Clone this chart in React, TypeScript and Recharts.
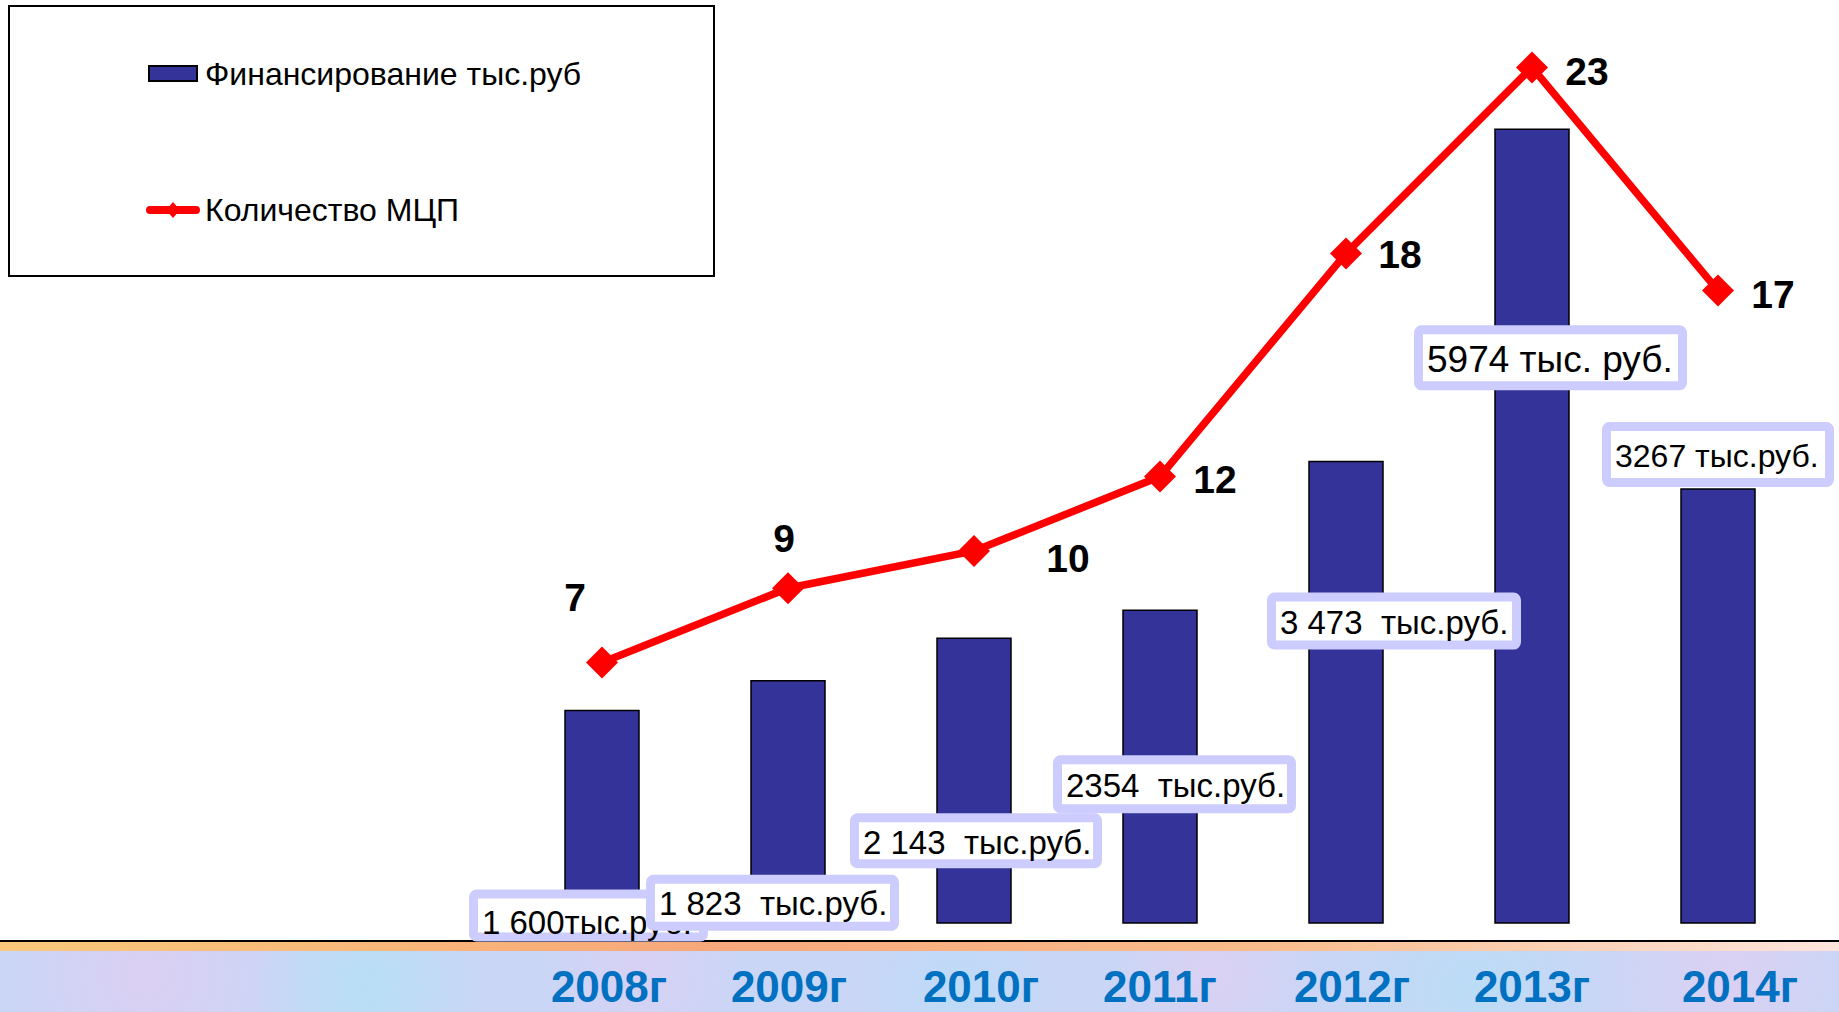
import { Bar, ComposedChart, LabelList, Legend, Line, XAxis, YAxis } from "recharts";

const years = ["2008г", "2009г", "2010г", "2011г", "2012г", "2013г", "2014г"];
const funding = [1600, 1823, 2143, 2354, 3473, 5974, 3267];
const fundingLabels = [
  "1 600тыс.руб.",
  "1 823  тыс.руб.",
  "2 143  тыс.руб.",
  "2354  тыс.руб.",
  "3 473  тыс.руб.",
  "5974 тыс. руб.",
  "3267 тыс.руб.",
];
const programs = [7, 9, 10, 12, 18, 23, 17];

const data = years.map((year, i) => ({
  year,
  funding: funding[i],
  programs: programs[i],
}));

const FONT = "'Liberation Sans', Arial, sans-serif";

// label boxes were placed by hand on the slide, offsets from the bar's top centre
const boxPlace = [
  { dx: -133, dy: 179, w: 239, h: 52, fs: 33, ty: 33 },
  { dx: -142, dy: 194, w: 253, h: 56, fs: 33, ty: 29 },
  { dx: -124, dy: 175, w: 252, h: 55, fs: 33, ty: 29 },
  { dx: -107, dy: 145, w: 243, h: 58, fs: 33, ty: 30 },
  { dx: -79, dy: 131, w: 254, h: 57, fs: 33, ty: 30 },
  { dx: -118, dy: 196, w: 273, h: 65, fs: 37, ty: 34 },
  { dx: -116, dy: -67, w: 232, h: 65, fs: 32, ty: 34 },
];

// count labels, offsets from the marker
const countPlace = [
  { dx: -27, dy: -65 },
  { dx: -4, dy: -50 },
  { dx: 94, dy: 7 },
  { dx: 55, dy: 3 },
  { dx: 54, dy: 1 },
  { dx: 55, dy: 4 },
  { dx: 55, dy: 4 },
];

const yearShift = [7, 1, 7, 0, 6, 0, 22];

const renderFundingBox = (props: any) => {
  const { x, y, width, index } = props;
  const p = boxPlace[index];
  const left = Number(x) + Number(width) / 2 + p.dx;
  const top = Number(y) + p.dy;
  return (
    <g key={`box-${index}`}>
      <rect
        x={left + 4.5}
        y={top + 4.5}
        width={p.w - 9}
        height={p.h - 9}
        rx={3}
        fill="#ffffff"
        stroke="#ccccff"
        strokeWidth={9}
      />
      <text
        x={left + 13}
        y={top + p.ty}
        dominantBaseline="central"
        fontFamily={FONT}
        fontSize={p.fs}
        fill="#000"
        style={{ whiteSpace: "pre" }}
      >
        {fundingLabels[index]}
      </text>
    </g>
  );
};

const renderCount = (props: any) => {
  const { x, y, value, index } = props;
  const p = countPlace[index];
  return (
    <text
      key={`cnt-${index}`}
      x={Number(x) + p.dx}
      y={Number(y) + p.dy}
      textAnchor="middle"
      dominantBaseline="central"
      fontFamily={FONT}
      fontWeight="bold"
      fontSize={39}
      fill="#000"
    >
      {value}
    </text>
  );
};

const renderDiamond = (props: any) => {
  const { cx, cy, index } = props;
  const r = 16;
  return (
    <polygon
      key={`dot-${index}`}
      points={`${cx},${cy - r} ${cx + r},${cy} ${cx},${cy + r} ${cx - r},${cy}`}
      fill="#ff0000"
    />
  );
};

const YearTick = (props: any) => {
  const { x, y, payload, index } = props;
  return (
    <text
      x={Number(x) + yearShift[index]}
      y={Number(y) + 79}
      textAnchor="middle"
      fontFamily={FONT}
      fontWeight="bold"
      fontSize={44}
      fill="#0070c0"
    >
      {payload.value}
    </text>
  );
};

const renderLegend = (props: any) => {
  const items = (props.payload || []) as any[];
  const barItem = items.find((e) => e.type !== "line");
  const lineItem = items.find((e) => e.type === "line");
  return (
    <div
      style={{
        width: 707,
        height: 272,
        border: "2px solid #000",
        boxSizing: "border-box",
        background: "#fff",
      }}
    >
      <svg width={703} height={268}>
        <rect x={139} y={59} width={48} height={15} fill="#333399" stroke="#000" strokeWidth={2} />
        <text x={195} y={67} dominantBaseline="central" fontFamily={FONT} fontSize={32} fill="#000">
          {barItem?.value}
        </text>
        <line x1={140} y1={203} x2={186} y2={203} stroke="#ff0000" strokeWidth={8} strokeLinecap="round" />
        <polygon points="163,195 170,203 163,211 156,203" fill="#ff0000" />
        <text x={195} y={203} dominantBaseline="central" fontFamily={FONT} fontSize={32} fill="#000">
          {lineItem?.value}
        </text>
      </svg>
    </div>
  );
};

export default function App() {
  return (
    <div
      style={{
        position: "absolute",
        left: 0,
        top: 0,
        width: 1839,
        height: 1012,
        overflow: "hidden",
        background: "#ffffff",
      }}
    >
      <div style={{ position: "absolute", left: 0, top: 940, width: 1839, height: 2, background: "#000" }} />
      <div
        style={{
          position: "absolute",
          left: 0,
          top: 942,
          width: 1839,
          height: 9,
          background: "linear-gradient(to right, #f9c87a 0%, #f7a87a 38%, #f9bb8a 68%, #fde4dc 100%)",
        }}
      />
      <div
        style={{
          position: "absolute",
          left: 0,
          top: 951,
          width: 1839,
          height: 61,
          backgroundColor: "#c9d6f6",
          backgroundImage:
            "radial-gradient(circle at 8% 40%, rgba(226,204,242,0.7), transparent 9%), radial-gradient(circle at 20% 60%, rgba(176,226,246,0.7), transparent 8%), radial-gradient(circle at 35% 30%, rgba(222,206,244,0.7), transparent 9%), radial-gradient(circle at 52% 70%, rgba(180,222,248,0.6), transparent 10%), radial-gradient(circle at 66% 35%, rgba(226,206,242,0.7), transparent 9%), radial-gradient(circle at 80% 65%, rgba(178,224,246,0.6), transparent 9%), radial-gradient(circle at 94% 40%, rgba(226,206,242,0.7), transparent 8%)",
        }}
      />
      <div style={{ position: "absolute", left: 0, top: -20 }}>
        <ComposedChart
          width={1839}
          height={1032}
          data={data}
          margin={{ top: 13, right: 28, bottom: 0, left: 509 }}
        >
          <XAxis
            dataKey="year"
            height={89}
            axisLine={false}
            tickLine={false}
            tickSize={0}
            tickMargin={0}
            interval={0}
            tick={<YearTick />}
          />
          <YAxis yAxisId="f" hide domain={[0, 7000]} />
          <YAxis yAxisId="p" orientation="right" hide domain={[0, 25]} />
          <Legend
            layout="horizontal"
            verticalAlign="middle"
            align="center"
            wrapperStyle={{ left: 8, top: 25, width: 707, height: 272 }}
            content={renderLegend}
          />
          <Bar
            yAxisId="f"
            dataKey="funding"
            name="Финансирование тыс.руб"
            fill="#333399"
            stroke="#000"
            strokeWidth={1.5}
            barSize={74}
            isAnimationActive={false}
          >
            <LabelList dataKey="funding" content={renderFundingBox} />
          </Bar>
          <Line
            yAxisId="p"
            type="linear"
            dataKey="programs"
            name="Количество МЦП"
            stroke="#ff0000"
            strokeWidth={7.5}
            dot={renderDiamond}
            activeDot={false}
            isAnimationActive={false}
          >
            <LabelList dataKey="programs" content={renderCount} />
          </Line>
        </ComposedChart>
      </div>
    </div>
  );
}
